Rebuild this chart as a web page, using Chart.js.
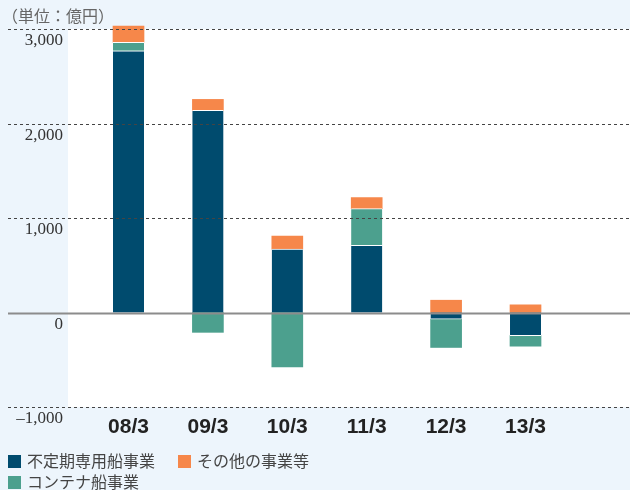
<!DOCTYPE html>
<html lang="ja">
<head>
<meta charset="utf-8">
<script src="https://cdn.jsdelivr.net/npm/chart.js@4/dist/chart.umd.min.js"></script>
<style>
    html, body { margin: 0; padding: 0; background: #edf5fc; }
    #wrap { position: relative; width: 630px; height: 490px; }
    #unit { position: absolute; left: 2px; top: 5px; font: 16px "Noto Sans CJK JP", sans-serif; color: #666; line-height: 20px; }
    .lg { position: absolute; font: 16px "Noto Sans CJK JP", sans-serif; color: #444; line-height: 20px; }
    .lg i { display: inline-block; width: 13px; height: 13px; margin-right: 6px; vertical-align: -1px; }
</style>
</head>
<body>
<div id="wrap">
    <canvas id="barChart" width="630" height="490"></canvas>
    <div id="unit">（単位：億円）</div>
    <div class="lg" style="left:8px; top:450px;"><i style="background:#004b6e"></i>不定期専用船事業</div>
    <div class="lg" style="left:178px; top:450px;"><i style="background:#f6874a"></i>その他の事業等</div>
    <div class="lg" style="left:8px; top:471px;"><i style="background:#4ca08e"></i>コンテナ船事業</div>
</div>
<script>
// 億円
const categories = ['08/3', '09/3', '10/3', '11/3', '12/3', '13/3'];
const bulkShipping = [2770, 2140, 670, 710, -70, -245];
const containerShipping = [90, -210, -575, 390, -300, -110];
const otherBusiness = [170, 115, 140, 115, 130, 80];
const yTicks = [3000, 2000, 1000, 0, -1000];

document.addEventListener('DOMContentLoaded', () => {
    const toPoints = arr => arr.map((v, i) => ({ x: i, y: v }));

    // light blue page, white plot area, full-width grid lines
    const backdrop = {
        id: 'backdrop',
        beforeDraw(chart) {
            const { ctx, chartArea: a } = chart;
            ctx.save();
            ctx.fillStyle = '#edf5fc';
            ctx.fillRect(0, 0, chart.width, chart.height);
            ctx.fillStyle = '#ffffff';
            ctx.fillRect(a.left, a.top, a.right - a.left, a.bottom - a.top);
            ctx.restore();
        },
        afterDatasetsDraw(chart) {
            const { ctx, scales: { y } } = chart;
            ctx.save();
            yTicks.forEach(v => {
                const py = Math.round(y.getPixelForValue(v)) + 0.5;
                ctx.beginPath();
                if (v === 0) {
                    ctx.strokeStyle = '#8c8c8c';
                    ctx.lineWidth = 2;
                    ctx.setLineDash([]);
                } else {
                    ctx.strokeStyle = '#444';
                    ctx.lineWidth = 1;
                    ctx.setLineDash([3, 3]);
                }
                ctx.moveTo(8, py);
                ctx.lineTo(chart.width, py);
                ctx.stroke();
            });
            ctx.restore();
        }
    };

    const barCanvas = document.getElementById('barChart');
    new Chart(barCanvas.getContext('2d'), {
        type: 'bar',
        data: {
            datasets: [{
                label: '不定期専用船事業',
                data: toPoints(bulkShipping),
                backgroundColor: '#004b6e',
                borderColor: '#ffffff',
                borderWidth: { top: 1, bottom: 1, left: 0, right: 0 }
            }, {
                label: 'コンテナ船事業',
                data: toPoints(containerShipping),
                backgroundColor: '#4ca08e',
                borderColor: '#ffffff',
                borderWidth: { top: 1, bottom: 0, left: 0, right: 0 }
            }, {
                label: 'その他の事業等',
                data: toPoints(otherBusiness),
                backgroundColor: '#f6874a',
                borderWidth: 0
            }]
        },
        options: {
            responsive: false,
            animation: false,
            clip: false,
            barThickness: 31,
            layout: { padding: { top: 29, bottom: 0, left: 0, right: 0 } },
            plugins: {
                legend: { display: false },
                tooltip: { enabled: false }
            },
            scales: {
                x: {
                    type: 'linear',
                    stacked: true,
                    offset: false,
                    min: -0.762,
                    max: 6.316,
                    grid: { display: false, drawTicks: false },
                    border: { display: false },
                    afterBuildTicks: scale => {
                        scale.ticks = categories.map((c, i) => ({ value: i }));
                    },
                    afterFit: scale => { scale.height = 83; },
                    ticks: {
                        padding: 8,
                        autoSkip: false,
                        maxRotation: 0,
                        color: '#222',
                        font: { family: 'Liberation Sans', size: 21, weight: 'bold' },
                        callback: v => categories[v] ?? ''
                    }
                },
                y: {
                    stacked: true,
                    min: -1000,
                    max: 3000,
                    grid: { display: false, drawTicks: false },
                    border: { display: false },
                    afterBuildTicks: scale => {
                        scale.ticks = yTicks.map(v => ({ value: v }));
                    },
                    afterFit: scale => { scale.width = 68; },
                    ticks: {
                        padding: 5,
                        labelOffset: 12,
                        color: '#333',
                        font: { family: 'Liberation Serif', size: 17 },
                        callback: v => v < 0 ? '\u2013' + Math.abs(v).toLocaleString('en-US') : v.toLocaleString('en-US')
                    }
                }
            }
        },
        plugins: [backdrop]
    });
});
</script>
</body>
</html>
